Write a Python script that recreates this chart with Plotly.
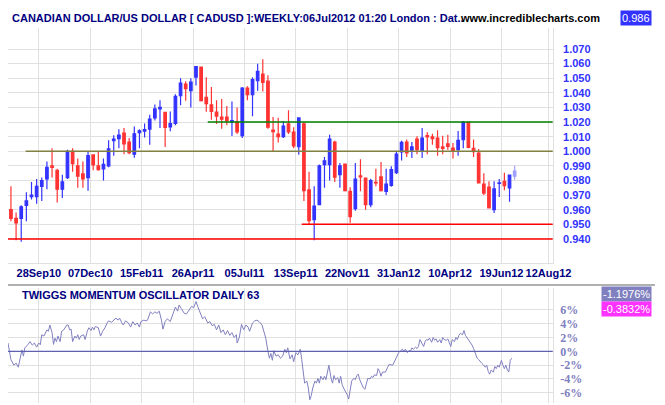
import plotly.graph_objects as go
import pandas as pd

# ---------------- DATA ----------------
first_week = "2010-08-21"
opens  = [0.960,0.954,0.954,0.963,0.969,0.969,0.976,0.981,0.990,0.987,0.974,0.982,1.000,0.990,0.9845,0.982,0.9975,0.990,0.988,0.990,
          1.0073,1.0086,1.0125,1.0063,0.998,1.0127,1.0137,1.0152,1.0228,1.029,1.0267,1.0166,1.019,1.038,1.046,1.0415,1.0508,1.0577,1.037,1.0317,
          1.0269,1.0234,1.0234,1.020,1.020,1.0107,1.0433,1.0387,1.0483,1.0529,1.048,1.0145,1.0118,1.010,1.0187,1.0132,1.0031,1.0187,0.9735,0.9532,
          0.9634,0.9908,0.9908,1.0063,0.984,0.9913,0.9726,0.9607,0.9831,0.9817,0.9634,0.9788,0.9824,0.9726,0.9767,0.9853,0.9995,1.0063,1.0007,1.0084,
          1.0004,1.0107,1.0098,1.009,1.003,1.005,1.0022,1.0011,1.0079,1.0198,1.002,0.9988,0.9776,0.9755,0.960,0.978,0.9794,0.9749,0.9829]
highs  = [0.976,0.958,0.963,0.972,0.979,0.981,0.982,0.993,1.002,0.988,0.984,1.001,1.002,0.995,0.993,0.9995,0.998,0.9995,0.995,1.0075,
          1.011,1.015,1.016,1.009,1.017,1.015,1.019,1.025,1.032,1.035,1.027,1.0273,1.039,1.050,1.048,1.050,1.058,1.058,1.0506,1.044,
          1.035,1.0358,1.031,1.034,1.030,1.044,1.0445,1.0506,1.060,1.063,1.052,1.0235,1.023,1.0205,1.028,1.0164,1.0228,1.020,0.986,0.976,
          0.991,0.996,1.0113,1.0072,0.992,0.9915,0.9753,0.992,0.9945,0.9817,0.9812,0.988,0.9927,0.988,0.9897,1.0004,1.0072,1.008,1.0063,1.0102,
          1.016,1.013,1.012,1.0144,1.0107,1.0113,1.0057,1.0139,1.0207,1.020,1.008,1.0016,0.985,0.9794,0.9794,0.981,0.9853,0.984,0.990]
lows   = [0.952,0.939,0.938,0.952,0.967,0.964,0.966,0.974,0.982,0.965,0.968,0.981,0.986,0.975,0.975,0.973,0.987,0.9867,0.980,0.989,
          0.997,1.002,0.998,0.998,0.9956,1.002,1.0095,1.0045,1.021,1.016,1.003,1.0137,1.0178,1.0315,1.0346,1.030,1.045,1.034,1.027,1.0216,
          1.0187,1.0155,1.0178,1.0105,1.0118,1.009,1.035,1.024,1.0415,1.041,1.0155,1.000,1.006,1.009,1.0118,1.002,0.9977,0.966,0.950,0.939,
          0.9634,0.975,0.980,0.979,0.975,0.9725,0.951,0.9593,0.9726,0.960,0.9617,0.976,0.9725,0.970,0.9757,0.9845,0.9936,0.996,0.9954,0.998,
          0.9954,0.998,1.0045,0.997,0.998,1.001,0.995,0.997,1.002,1.002,0.996,0.978,0.970,0.961,0.9578,0.9687,0.9733,0.9655,0.9805]
closes = [0.954,0.951,0.962,0.966,0.970,0.976,0.980,0.989,0.989,0.974,0.979,1.000,0.9915,0.983,0.981,0.997,0.9906,0.9875,0.991,1.0016,
          1.0084,1.011,1.005,0.999,1.012,1.014,1.0148,1.022,1.029,1.030,1.0164,1.019,1.0376,1.0467,1.0428,1.0474,1.058,1.0346,1.0326,1.0273,
          1.0241,1.022,1.021,1.021,1.0132,1.0433,1.0387,1.049,1.0547,1.0472,1.0165,1.0134,1.010,1.0173,1.0132,1.0036,1.0228,0.973,0.9525,0.9625,
          0.990,0.9935,1.0084,0.9822,0.990,0.973,0.9553,0.981,0.9824,0.9634,0.980,0.9783,0.973,0.9776,0.9874,0.9981,1.0061,0.9988,1.003,1.0011,
          1.009,1.0098,1.0086,1.0025,1.002,1.0034,1.0004,1.0075,1.0198,1.0027,0.9997,0.9783,0.9714,0.9612,0.9742,0.9783,0.9765,0.9837,0.9865]

osc_origin = "2010-09-28"
osc_day = [-42,-38,-34,-31,-28,-25,-23,-21,-19,-15,-12,-9,-6,-3,0,2,4,7,11,13,15,18,20,22,24,26,29,31,34,38,40,42,44,46,49,51,53,55,57,61,
           63,66,68,71,73,75,77,81,84,87,90,93,95,99,102,105,108,110,113,115,118,122,125,128,131,134,137,139,143,146,148,152,155,158,161,164,167,169,172,175,
           179,182,186,189,191,194,198,201,205,208,211,214,217,220,223,226,230,233,236,239,242,245,248,251,254,257,260,263,266,269,270,273,276,279,282,285,287,291,294,297,
           300,304,307,309,312,314,316,318,320,323,326,329,332,335,337,339,342,345,347,350,353,356,358,360,362,365,367,369,371,373,376,378,380,382,384,387,389,391,393,395,
           398,400,402,404,407,409,411,413,415,418,420,422,424,426,429,431,433,435,437,440,442,444,446,448,451,453,455,457,460,462,464,466,468,472,475,477,482,484,486,488,
           490,493,495,497,499,502,504,506,508,510,513,515,517,519,521,524,526,528,530,532,535,537,539,541,543,546,548,550,552,555,557,559,561,563,566,568,570,572,574,577,
           579,581,583,585,588,590,592,594,597,599,601,603,605,608,610,612,614,616,619,621,623,625,627,630,632,634,636,638,640,642,644]
osc_val = [1.2,-1.2,-2.0,-1.7,-2.3,-0.6,0.2,-0.7,0.5,0.95,1.4,0.9,1.2,0.6,1.2,0.95,2.4,2.2,3.1,2.9,3.8,2.7,1.0,1.9,1.4,2.2,1.4,2.9,3.1,3.8,
           3.8,3.1,3.2,1.4,2.2,1.9,2.4,1.7,2.2,2.4,1.7,2.9,3.4,3.0,3.5,3.1,3.6,3.4,2.2,2.9,3.4,4.1,4.4,4.2,4.5,4.8,4.5,4.8,4.1,3.8,
           4.4,4.1,3.5,4.3,3.8,4.1,3.5,4.3,4.5,4.4,4.5,5.7,5.4,5.7,5.5,5.8,4.5,3.2,4.3,4.7,4.3,5.2,6.4,5.8,6.7,6.2,5.5,5.4,6.1,6.5,
           6.3,7.2,6.3,5.5,4.7,5.0,4.1,4.3,3.7,3.9,3.1,3.8,2.7,3.1,2.4,3.0,2.3,2.7,2.0,2.4,1.2,2.0,3.9,3.1,3.8,3.5,2.9,4.1,4.4,4.5,
           4.3,3.8,2.7,1.9,0.0,-1.0,-0.3,-1.3,0.1,-0.7,-0.5,-1.0,-0.7,0.3,-0.2,0.5,-1.1,-0.5,-1.5,-0.2,-0.5,0.3,-1.2,-3.4,-4.6,-4.3,-5.3,-7.0,-6.4,-5.3,
           -4.3,-4.6,-3.9,-4.6,-3.6,-4.1,-3.6,-4.1,-3.2,-2.0,-3.9,-4.6,-3.5,-4.1,-3.8,-4.6,-3.6,-4.8,-5.3,-5.8,-6.3,-6.9,-5.8,-4.3,-3.9,-4.1,-3.5,-3.3,-4.1,-4.8,
           -5.3,-5.5,-4.8,-3.9,-4.0,-3.6,-3.8,-3.4,-3.5,-2.5,-2.9,-3.6,-3.0,-3.0,-2.3,-1.9,-2.0,-1.5,-1.0,-0.7,-0.2,0.1,0.3,0.0,0.3,-0.2,0.1,0.0,0.5,0.3,
           0.6,0.4,0.7,1.7,1.2,0.7,1.4,1.7,1.6,1.9,1.3,2.0,1.6,1.8,1.3,1.7,1.2,2.0,1.7,1.6,1.8,1.2,0.7,1.7,1.4,2.0,1.7,2.3,2.6,2.4,
           3.0,2.3,2.0,1.6,1.2,0.9,0.4,-0.2,-1.0,-1.2,-1.5,-1.7,-1.9,-2.3,-2.0,-2.9,-3.3,-2.7,-3.0,-2.2,-2.5,-2.0,-2.3,-1.3,-2.0,-2.5,-2.0,-2.7,-3.0,-1.3,-1.0]

x_range = ["2010-08-17","2012-08-28"]
tick_dates  = ["2010-09-28","2010-12-07","2011-02-15","2011-04-26","2011-07-05","2011-09-13","2011-11-22","2012-01-31","2012-04-10","2012-06-19","2012-08-22"]
tick_labels = ["28Sep10","07Dec10","15Feb11","26Apr11","05Jul11","13Sep11","22Nov11","31Jan12","10Apr12","19Jun12","12Aug12"]
price_ticks = [0.94,0.95,0.96,0.97,0.98,0.99,1.00,1.01,1.02,1.03,1.04,1.05,1.06,1.07]
osc_ticks = [-6,-4,-2,0,2,4,6]

# horizontal reference lines: (start date, level, colour)
ref_lines = [("2011-05-16",1.020,"#008000"),("2010-09-10",1.000,"#808040"),
             ("2011-09-21",0.950,"#ff0000"),("2010-08-17",0.940,"#ff0000")]
last_price = "0.986"
osc_badges = [("-1.1976%","#8080c0"),("-0.3832%","#ff33ff")]

# ---------------- FIGURE ----------------
dates = pd.date_range(first_week, periods=len(opens), freq="7D")
od = pd.Timestamp(osc_origin) + pd.to_timedelta(osc_day, unit="D")

BLUE = "#3333ff"; RED = "#ff3333"
fig = go.Figure()
n = len(opens)
fig.add_trace(go.Candlestick(x=dates[:n-1], open=opens[:n-1], high=highs[:n-1], low=lows[:n-1], close=closes[:n-1],
    increasing=dict(line=dict(color=BLUE, width=1.2), fillcolor=BLUE),
    decreasing=dict(line=dict(color=RED, width=1.2), fillcolor=RED),
    whiskerwidth=0, xaxis="x", yaxis="y", showlegend=False, hoverinfo="skip"))
fig.add_trace(go.Candlestick(x=dates[n-1:], open=opens[n-1:], high=highs[n-1:], low=lows[n-1:], close=closes[n-1:],
    increasing=dict(line=dict(color="#a0a0ff", width=1.2), fillcolor="#a0a0ff"),
    decreasing=dict(line=dict(color="#a0a0ff", width=1.2), fillcolor="#a0a0ff"),
    whiskerwidth=0, xaxis="x", yaxis="y", showlegend=False, hoverinfo="skip"))
fig.add_trace(go.Scatter(x=od, y=osc_val, mode="lines", line=dict(color="#8080c0", width=1),
    xaxis="x2", yaxis="y2", showlegend=False, hoverinfo="skip"))

for start, lvl, col in ref_lines:
    fig.add_shape(type="line", xref="x", yref="y", x0=start, x1=x_range[1], y0=lvl, y1=lvl,
                  line=dict(color=col, width=1.5))
fig.add_shape(type="line", xref="x2", yref="y2", x0=x_range[0], x1=x_range[1], y0=0, y1=0,
              line=dict(color="#6060b0", width=1.2))
fig.add_shape(type="line", xref="paper", yref="paper", x0=0, x1=1, y0=1-277/405, y1=1-277/405,
              line=dict(color="#b0b0b0", width=2))

W, H = 665, 405
xd = [0, 560/W]
grid = "#e0e0e0"
fig.update_layout(
    width=W, height=H, margin=dict(l=0, r=0, t=0, b=0),
    paper_bgcolor="white", plot_bgcolor="white",
    xaxis=dict(domain=xd, anchor="y", type="date", range=x_range, tickvals=tick_dates, ticktext=tick_labels,
               showgrid=True, gridcolor=grid, rangeslider=dict(visible=False), ticks="", tickangle=0,
               tickfont=dict(family="Liberation Sans", size=11, color="#000080", weight="bold"),
               showline=True, linecolor="#e0e0e0", fixedrange=True),
    yaxis=dict(domain=[1-255/H, 1-20/H], anchor="x", side="right", range=[0.9235, 1.0844],
               tickvals=price_ticks, ticktext=[f"{v:.3f}" for v in price_ticks], showgrid=True, gridcolor=grid,
               ticks="", ticklabelstandoff=7, zeroline=False, showline=True, linecolor="#e0e0e0",
               tickfont=dict(family="Liberation Sans", size=11, color=BLUE, weight="bold")),
    xaxis2=dict(domain=xd, anchor="y2", type="date", range=x_range, tickvals=tick_dates, showticklabels=False,
                showgrid=True, gridcolor=grid, ticks=""),
    yaxis2=dict(domain=[1-395/H, 1-280/H], anchor="x2", side="right", range=[-7.47, 9.15],
                tickvals=osc_ticks, ticktext=[f"{v}%" for v in osc_ticks], showgrid=True, gridcolor=grid,
                ticks="", ticklabelstandoff=4, zeroline=False, showline=True, linecolor="#e0e0e0",
                tickfont=dict(family="Liberation Serif", size=12, color="#8080c0", weight="bold")),
)
ann = [
    dict(text="CANADIAN DOLLAR/US DOLLAR [ CADUSD ]:WEEKLY:06Jul2012 01:20 London : Dat..", x=2/W, y=1-10/H,
         xanchor="left", font=dict(family="Liberation Sans", size=11, color="#000080", weight="bold")),
    dict(text="www.incrediblecharts.com", x=537/W, y=1-10/H, xanchor="center",
         font=dict(family="Liberation Sans", size=11, color="black", weight="bold")),
    dict(text=last_price, x=662/W, y=1-10/H, xanchor="right", bgcolor=BLUE, borderpad=1,
         font=dict(family="Liberation Sans", size=11, color="white")),
    dict(text="TWIGGS MOMENTUM OSCILLATOR DAILY 63", x=12/W, y=1-287/H, xanchor="left",
         font=dict(family="Liberation Sans", size=11, color="#000080", weight="bold")),
]
for i, (t, c) in enumerate(osc_badges):
    ann.append(dict(text=t, x=662/W, y=1-(286+15*i)/H, xanchor="right", bgcolor=c, borderpad=1,
                    font=dict(family="Liberation Sans", size=11, color="white")))
for a in ann:
    a.update(xref="paper", yref="paper", showarrow=False, yanchor="middle")
fig.update_layout(annotations=ann)
fig.write_html("out.html")
